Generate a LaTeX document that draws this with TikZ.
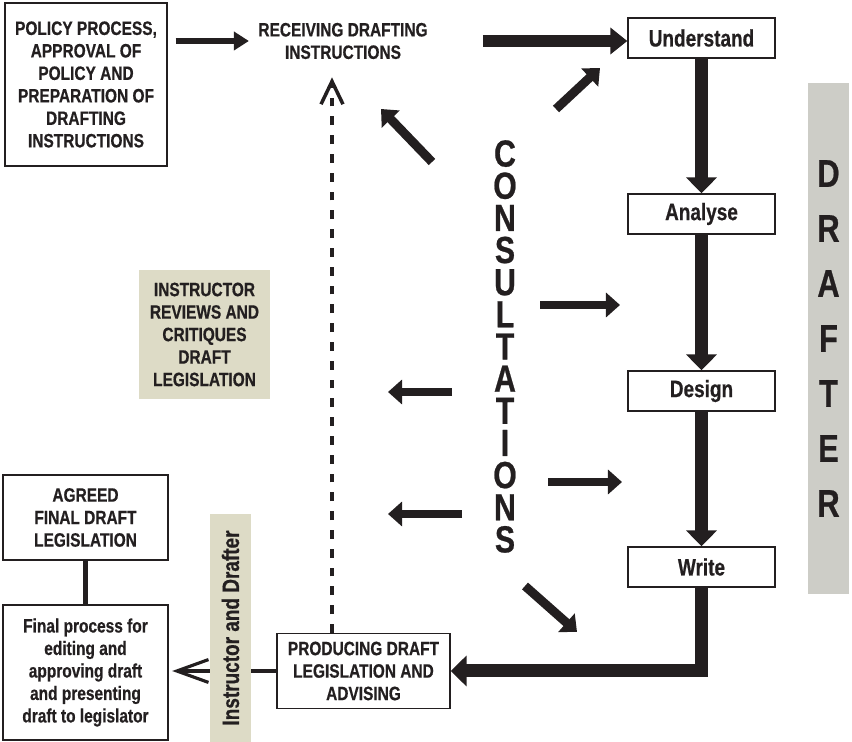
\documentclass[tikz,border=0pt]{standalone}
\usepackage{fontspec}
\setmainfont[FakeStretch=0.8, BoldFeatures = {FakeBold = 0.6}]{Liberation Sans}
\usetikzlibrary{arrows.meta}

\definecolor{sand}{RGB}{221,219,198}
\definecolor{slate}{RGB}{205,205,199}
\definecolor{ink}{RGB}{35,31,32}

\begin{document}
\begin{tikzpicture}[
	x = 0.02cm,
	y = -0.02cm,
	color = ink,
	bx/.style = {
		draw,
		line width = 0.8pt,
		align = center,
		inner sep = 0,
		font = \fontsize{11}{12.8}\selectfont\bfseries
	},
	sb/.style = {
		bx,
		minimum width = 2.94cm,
		minimum height = 0.8cm,
		font = \fontsize{13.5}{15}\selectfont\bfseries
	},
	nt/.style = {
		fill = sand,
		align = center,
		inner sep = 0,
		font = \fontsize{11}{12.8}\selectfont\bfseries
	},
	sa/.style = {
		line width = 3.4pt,
		-{Triangle[length = 8.5pt, width = 10.2pt]}
	},
	fa/.style = {
		line width = 6.3pt,
		-{Triangle[length = 9.7pt, width = 14.8pt]}
	},
	va/.style = {
		line width = 7.4pt,
		-{Triangle[length = 9pt, width = 17pt]}
	},
	ca/.style = {
		line width = 5.1pt,
		-{Triangle[length = 8pt, width = 13.7pt]}
	},
	dl/.style = {
		line width = 2.5pt,
		dash pattern = on 5pt off 5.7pt,
		-{Straight Barb[length = 13pt, width = 12.5pt, line width = 2pt]}
	},
	fl/.style = {
		line width = 2.3pt,
		-{Straight Barb[length = 18pt, width = 13pt, line width = 1.8pt]}
	}
]
\useasboundingbox (0, 0) rectangle (852, 742);

% boxes
\node [bx, minimum width = 3.24cm, minimum height = 3.26cm] (pol) at (86, 84.5) {POLICY PROCESS,\\APPROVAL OF\\POLICY AND\\PREPARATION OF\\DRAFTING\\INSTRUCTIONS};
\node [bx, draw = none] (rec) at (343, 41) {RECEIVING DRAFTING\\INSTRUCTIONS};
\node [sb] (und) at (701.5, 38) {Understand};
\node [sb] (ana) at (701.5, 214) {Analyse};
\node [sb] (des) at (701.5, 391) {Design};
\node [sb] (wri) at (701.5, 567) {Write};
\node [bx, minimum width = 3.46cm, minimum height = 1.5cm] (pro) at (363.5, 671) {PRODUCING DRAFT\\LEGISLATION AND\\ADVISING};
\node [nt, minimum width = 2.62cm, minimum height = 2.58cm] (rev) at (204.5, 334.5) {INSTRUCTOR\\REVIEWS AND\\CRITIQUES\\DRAFT\\LEGISLATION};
\node [bx, minimum width = 3.3cm, minimum height = 1.7cm] (agr) at (85.5, 517.5) {AGREED\\FINAL DRAFT\\LEGISLATION};
\node [bx, minimum width = 3.3cm, minimum height = 2.7cm] (fin) at (85.5, 672.5) {Final process for\\editing and\\approving draft\\and presenting\\draft to legislator};
\node [nt, fill = slate, minimum width = 0.82cm, minimum height = 10.22cm, font = \fontsize{22}{31.3}\selectfont\bfseries] (dft) at (828.5, 338.5) {D\\R\\A\\F\\T\\E\\R};
\node [align = center, inner sep = 0, font = \fontsize{21.5}{18.3}\selectfont\bfseries] (con) at (505, 346.5) {C\\O\\N\\S\\U\\L\\T\\A\\T\\I\\O\\N\\S};

% main flow
\draw [sa, shorten < = 4.5pt, shorten > = 5pt] (pol.east |- rec.west) -- (rec.west);
\draw [fa, shorten < = 31pt] (rec.east) -- (und.west |- rec.east);
\draw [va] (und) -- (ana);
\draw [va] (ana) -- (des);
\draw [va] (des) -- (wri);
\draw [va] (wri.south) |- (pro.east);

\coordinate (dx) at (332, 0);
\draw [dl, shorten > = 10pt] (pro.north -| dx) -- (rec.south -| dx);

% consultations
\coordinate (c1) at (432, 162);
\coordinate (c1t) at (381, 109);
\coordinate (c2) at (556, 109);
\coordinate (c2t) at (600, 68);
\coordinate (c3) at (540, 305);
\coordinate (c3t) at (620, 305);
\coordinate (c4) at (452, 392);
\coordinate (c4t) at (388, 392);
\coordinate (c5) at (548, 482);
\coordinate (c5t) at (622, 482);
\coordinate (c6) at (462, 514);
\coordinate (c6t) at (388, 514);
\coordinate (c7) at (525, 586);
\coordinate (c7t) at (577, 632);

\draw [ca] (c1) -- (c1t);
\draw [ca] (c2) -- (c2t);
\draw [ca] (c3) -- (c3t);
\draw [ca] (c4) -- (c4t);
\draw [ca] (c5) -- (c5t);
\draw [ca] (c6) -- (c6t);
\draw [ca] (c7) -- (c7t);

% final stage
\draw [line width = 2.3pt] (agr) -- (fin);
\draw [fl, shorten > = 2pt] (pro.west) -- (fin.east |- pro.west);
\node [nt, minimum width = 4.56cm, minimum height = 0.82cm, rotate = 90, font = \fontsize{13.5}{15}\selectfont\bfseries] (ind) at (230.5, 628) {Instructor and Drafter};
\end{tikzpicture}
\end{document}
